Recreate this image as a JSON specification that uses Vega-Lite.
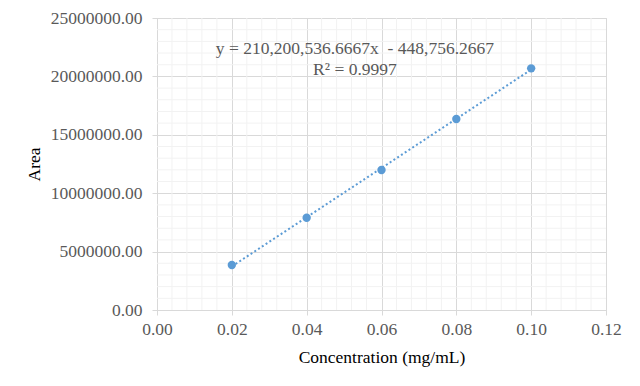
{
  "$schema": "https://vega.github.io/schema/vega-lite/v6.json",
  "autosize": {"type": "none"},
  "width": 449,
  "height": 292,
  "padding": {"left": 157, "top": 18, "right": 34, "bottom": 76},
  "background": "white",
  "config": {
    "view": {"stroke": "#d9d9d9", "strokeWidth": 1},
    "font": "Liberation Serif",
    "axis": {
      "labelFont": "Liberation Serif",
      "titleFont": "Liberation Serif",
      "labelFontSize": 17.5,
      "titleFontSize": 17.5,
      "labelColor": "#595959",
      "titleColor": "#000000",
      "titleFontWeight": "normal",
      "domainColor": "#d9d9d9",
      "tickColor": "#d9d9d9",
      "tickSize": 5,
      "gridColor": "#d9d9d9",
      "labelFlush": false
    }
  },
  "datasets": {
    "points": [
      {"conc": 0.02, "area": 3850000},
      {"conc": 0.04, "area": 7900000},
      {"conc": 0.06, "area": 11990000},
      {"conc": 0.08, "area": 16350000},
      {"conc": 0.10, "area": 20690000}
    ],
    "minorx": [
      {"v": 0.004}, {"v": 0.008}, {"v": 0.012}, {"v": 0.016},
      {"v": 0.024}, {"v": 0.028}, {"v": 0.032}, {"v": 0.036},
      {"v": 0.044}, {"v": 0.048}, {"v": 0.052}, {"v": 0.056},
      {"v": 0.064}, {"v": 0.068}, {"v": 0.072}, {"v": 0.076},
      {"v": 0.084}, {"v": 0.088}, {"v": 0.092}, {"v": 0.096},
      {"v": 0.104}, {"v": 0.108}, {"v": 0.112}, {"v": 0.116}
    ],
    "minory": [
      {"v": 1000000}, {"v": 2000000}, {"v": 3000000}, {"v": 4000000},
      {"v": 6000000}, {"v": 7000000}, {"v": 8000000}, {"v": 9000000},
      {"v": 11000000}, {"v": 12000000}, {"v": 13000000}, {"v": 14000000},
      {"v": 16000000}, {"v": 17000000}, {"v": 18000000}, {"v": 19000000},
      {"v": 21000000}, {"v": 22000000}, {"v": 23000000}, {"v": 24000000}
    ],
    "labels": [
      {"x": 0.0529, "y": 22350000, "t": "y = 210,200,536.6667x \u00a0- 448,756.2667"},
      {"x": 0.0529, "y": 20550000, "t": "R² = 0.9997"}
    ]
  },
  "layer": [
    {
      "data": {"name": "minorx"},
      "mark": {"type": "rule", "color": "#f2f2f2", "strokeWidth": 1},
      "encoding": {
        "x": {"field": "v", "type": "quantitative", "scale": {"domain": [0, 0.12]}}
      }
    },
    {
      "data": {"name": "minory"},
      "mark": {"type": "rule", "color": "#f2f2f2", "strokeWidth": 1},
      "encoding": {
        "y": {"field": "v", "type": "quantitative", "scale": {"domain": [0, 25000000]}}
      }
    },
    {
      "data": {"name": "points"},
      "transform": [{"regression": "area", "on": "conc", "method": "linear"}],
      "mark": {"type": "line", "color": "#5b9bd5", "strokeWidth": 2, "strokeDash": [2, 2.5]},
      "encoding": {
        "x": {
          "field": "conc", "type": "quantitative",
          "scale": {"domain": [0, 0.12], "nice": false, "zero": true},
          "axis": {
            "title": "Concentration (mg/mL)",
            "values": [0, 0.02, 0.04, 0.06, 0.08, 0.1, 0.12],
            "format": ".2f",
            "labelFont": "Liberation Serif",
            "labelFontSize": 17.5,
            "titleFont": "Liberation Serif",
            "titleFontSize": 17.5,
            "labelFlush": false,
            "labelPadding": 5,
            "titlePadding": 11,
            "grid": true
          }
        },
        "y": {
          "field": "area", "type": "quantitative",
          "scale": {"domain": [0, 25000000], "nice": false},
          "axis": {
            "title": "Area",
            "values": [0, 5000000, 10000000, 15000000, 20000000, 25000000],
            "format": ".2f",
            "labelFont": "Liberation Serif",
            "labelFontSize": 17.5,
            "titleFont": "Liberation Serif",
            "titleFontSize": 17.5,
            "labelFlush": false,
            "labelPadding": 10,
            "titlePadding": 7,
            "grid": true
          }
        }
      }
    },
    {
      "data": {"name": "points"},
      "mark": {"type": "point", "filled": true, "opacity": 1, "color": "#5b9bd5", "size": 70},
      "encoding": {
        "x": {"field": "conc", "type": "quantitative"},
        "y": {"field": "area", "type": "quantitative"}
      }
    },
    {
      "data": {"name": "labels"},
      "mark": {"type": "text", "font": "Liberation Serif", "fontSize": 17.5, "color": "#595959", "align": "center", "baseline": "middle"},
      "encoding": {
        "x": {"field": "x", "type": "quantitative"},
        "y": {"field": "y", "type": "quantitative"},
        "text": {"field": "t"}
      }
    }
  ]
}
